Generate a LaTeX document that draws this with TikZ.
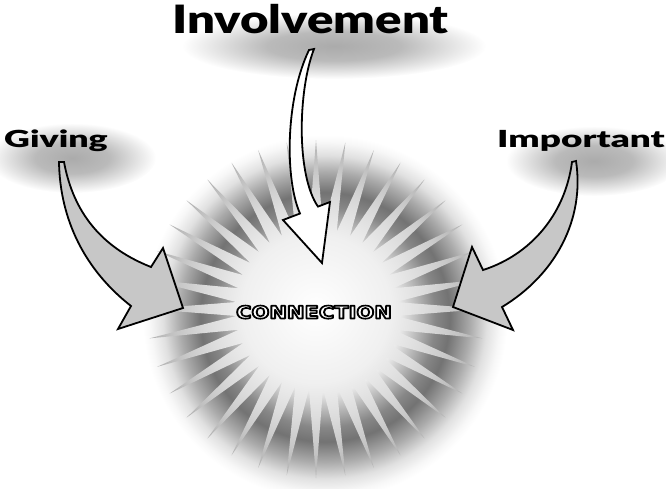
\documentclass[tikz,border=0pt]{standalone}
\usepackage{fontspec}
\usepackage{graphicx}
\usetikzlibrary{positioning}
\IfFontExistsTF{Lato Black}
  {\newfontfamily\heavyfont{Lato Black}}
  {\newfontfamily\heavyfont{DejaVu Sans Bold}}
\newfontfamily\plaquefont{DejaVu Sans Bold}
% white letters with a black rim (fill, then stroke)
\newcommand{\rimmed}[1]{\textcolor{white}{%
  \special{pdf:literal direct 0 G 1.6 w 1 j 2 Tr}#1%
  \special{pdf:literal direct 0 Tr}}}

% grey halo behind the burst, darkest where the rays start
\pgfdeclareradialshading{haze}{\pgfpoint{0bp}{0bp}}{%
  color(0bp)=(black!5); color(9.9bp)=(black!8); color(14.5bp)=(black!47);
  color(16.4bp)=(black!55); color(19.1bp)=(black!33); color(21.3bp)=(black!12);
  color(23bp)=(black!3); color(24bp)=(white); color(50bp)=(white)}
% light rays of the burst, greyer towards the tips
\pgfdeclareradialshading{rays}{\pgfpoint{0bp}{0bp}}{%
  color(0bp)=(white); color(11bp)=(black!6); color(16.3bp)=(black!14);
  color(25bp)=(black!30); color(50bp)=(black!30)}
% blurred shadow under the words
\pgfdeclareradialshading{wordshadow}{\pgfpoint{0bp}{0bp}}{%
  color(0bp)=(black!33); color(11bp)=(black!27); color(25bp)=(white);
  color(50bp)=(white)}

\begin{document}
\begin{tikzpicture}[
  x=1pt, y=-1pt,
  word/.style={font=\heavyfont\fontsize{23.5}{24}\selectfont, anchor=base,
    inner sep=0pt},
  bigword/.style={word, font=\heavyfont\fontsize{39}{40}\selectfont},
  blockarrow/.style={draw=black, line width=1.8pt, line join=miter,
    miter limit=10},
  shadowblob/.style={shading=wordshadow}
]
\useasboundingbox (0,0) rectangle (666,488);

% Burst: halo and rays.
\shade[shading=haze] (325,317) circle[radius=190];
\begin{scope}[shift={(316,309)}]
  \shade[shading=rays] (0:169)
    \foreach \a in {0,10,...,350} { -- (\a:169) -- (\a+5:80) } -- cycle;
\end{scope}

% Shadows under the words.
\shade[shadowblob] (334,46) ellipse[x radius=152, y radius=33];
\shade[shadowblob] (72,158) ellipse[x radius=84, y radius=35];
\shade[shadowblob] (594,161) ellipse[x radius=88, y radius=35];

% Words.
\node[bigword] (involvement) at (310.5,33) {\scalebox{1.26}[1]{Involvement}};
\node[word] (giving) at (56,147) {\scalebox{1.52}[1]{Giving}};
\node[word] (important) at (581,147) {\scalebox{1.57}[1]{Important}};
\node[anchor=base, inner sep=0pt, font=\plaquefont\fontsize{17.5}{18}\selectfont]
  (connection) at (314,318.5) {\scalebox{1.2}[1]{\rimmed{CONNECTION}}};

% Block arrows into the burst.
\coordinate (giving tip) at (183,308);
\coordinate (involvement tip) at (322,263);
\coordinate (important tip) at (453,307);

\filldraw[blockarrow, fill=black!22]
  (59,162) -- (64,162)
  .. controls (72,205) and (95,245) .. (151,267)
  -- (163,248) -- (giving tip) -- (118,329) -- (131,306)
  .. controls (85,270) and (60,220) .. (59,162) -- cycle;

\filldraw[blockarrow, fill=white]
  (309,50) -- (314,49)
  .. controls (298,90) and (296,175) .. (318,206.6)
  -- (330,202) -- (involvement tip) -- (283,220) -- (300,213.5)
  .. controls (285,180) and (285,100) .. (309,50) -- cycle;

\filldraw[blockarrow, fill=black!22]
  (572,162) -- (576,161)
  .. controls (585,220) and (555,275) .. (502,307)
  -- (513,330) -- (important tip) -- (472,247) -- (483,270)
  .. controls (530,255) and (565,215) .. (572,162) -- cycle;
\end{tikzpicture}
\end{document}
